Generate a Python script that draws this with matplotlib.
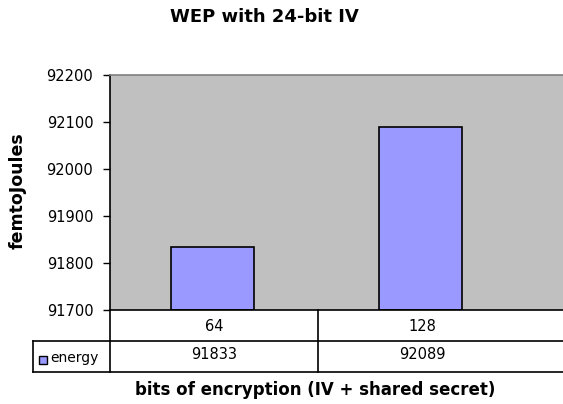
import matplotlib
matplotlib.use("Agg")
import matplotlib.pyplot as plt
from matplotlib.lines import Line2D
from matplotlib.patches import Rectangle

categories = ["64", "128"]
energy = [91833, 92089]
series_name = "energy"
yticks = [91700, 91800, 91900, 92000, 92100, 92200]
title = "WEP with 24-bit IV"
ylabel = "femtoJoules"
xlabel = "bits of encryption (IV + shared secret)"

W, H = 563, 404
fig = plt.figure(figsize=(W / 100, H / 100), dpi=100)
fig.patch.set_facecolor("white")

# plot area in pixels: left 110, top 75, bottom 310, extends past right edge
px_left, px_top, px_bottom = 110, 75, 310
unit = 208.0  # px per category
x0 = -(212 - px_left) / unit
px_right = 600
x1 = x0 + (px_right - px_left) / unit
ax = fig.add_axes([px_left / W, 1 - px_bottom / H, (px_right - px_left) / W,
                   (px_bottom - px_top) / H])
ax.set_facecolor("#c0c0c0")
xs = list(range(len(categories)))
ax.bar(xs, [e - yticks[0] for e in energy], bottom=yticks[0], width=83 / unit,
       color="#9999ff", edgecolor="black", linewidth=1.2, zorder=3)
ax.set_xlim(x0, x1)
ax.set_ylim(yticks[0], yticks[-1])
ax.set_yticks(yticks)
ax.set_yticklabels([str(t) for t in yticks], fontfamily="DejaVu Sans", fontsize=10.5)
ax.tick_params(axis="y", length=5, width=1, direction="out", pad=7, color="black")
ax.set_xticks([])
for s in ["right", "bottom"]:
    ax.spines[s].set_visible(False)
ax.spines["top"].set_color("#808080")
ax.spines["top"].set_linewidth(1.2)
ax.spines["left"].set_color("black")
ax.spines["left"].set_linewidth(1.2)

def fy(p):
    return 1 - p / H
def fx(p):
    return p / W

lw = 1.2
row1_top, row1_bot, row2_bot = 310, 341, 372
leg_left = 33
col_div = px_left + unit
lines = [
    ((px_left, W + 5), (row1_top, row1_top)),
    ((leg_left, W + 5), (row1_bot, row1_bot)),
    ((leg_left, W + 5), (row2_bot, row2_bot)),
    ((px_left, px_left), (row1_top, row2_bot)),
    ((col_div, col_div), (row1_top, row2_bot)),
    ((leg_left, leg_left), (row1_bot, row2_bot)),
]
for (xa, xb), (ya, yb) in lines:
    fig.add_artist(Line2D([fx(xa), fx(xb)], [fy(ya), fy(yb)], color="black", lw=lw))

for i, c in enumerate(categories):
    cx = px_left + unit * (i + 0.5)
    fig.text(fx(cx), fy((row1_top + row1_bot) / 2 + 1), c, ha="center", va="center",
             fontfamily="DejaVu Sans", fontsize=10.5)
    fig.text(fx(cx), fy((row1_bot + row2_bot) / 2 - 2), str(energy[i]), ha="center",
             va="center", fontfamily="DejaVu Sans", fontsize=10.5)

# legend cell
fig.add_artist(Rectangle((fx(39), fy(364)), 8 / W, 8 / H, facecolor="#9999ff",
                         edgecolor="black", lw=1, transform=fig.transFigure))
fig.text(fx(50), fy(358), series_name, ha="left", va="center",
         fontfamily="DejaVu Sans", fontsize=10)

fig.text(fx(264), fy(17), title, ha="center", va="center", fontweight="bold",
         fontsize=13, fontfamily="DejaVu Sans")
fig.text(fx(18), fy(191), ylabel, ha="center", va="center", rotation=90,
         fontweight="bold", fontsize=12.5, fontfamily="DejaVu Sans")
fig.text(fx(315), fy(390), xlabel, ha="center", va="center", fontweight="bold",
         fontsize=12, fontfamily="DejaVu Sans")

fig.savefig("out.png", dpi=100, facecolor="white")
